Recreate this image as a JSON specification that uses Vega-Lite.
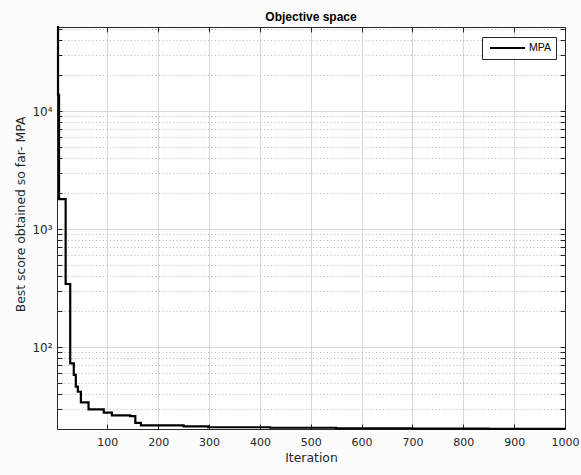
{
  "$schema": "https://vega.github.io/schema/vega-lite/v6.json",
  "width": 508,
  "height": 402,
  "autosize": {"type": "none"},
  "padding": {"left": 57, "top": 27, "right": 16, "bottom": 46},
  "background": "#fcfcfc",
  "title": {"text": "Objective space", "font": "Liberation Sans", "fontSize": 12, "fontWeight": "bold", "color": "#000000", "offset": -1, "anchor": "middle"},
  "config": {"view": {"fill": "#ffffff", "stroke": null}},
  "data": {"values": [
    {"iteration": 1, "score": 51500},
    {"iteration": 3, "score": 13700},
    {"iteration": 5, "score": 1790},
    {"iteration": 18, "score": 342},
    {"iteration": 27, "score": 72.8},
    {"iteration": 34, "score": 58},
    {"iteration": 38, "score": 46.1},
    {"iteration": 42, "score": 41.8},
    {"iteration": 48, "score": 34},
    {"iteration": 63, "score": 29.6},
    {"iteration": 93, "score": 27.8},
    {"iteration": 109, "score": 26.4},
    {"iteration": 145, "score": 26.0},
    {"iteration": 155, "score": 22.8},
    {"iteration": 166, "score": 21.7},
    {"iteration": 250, "score": 21.3},
    {"iteration": 298, "score": 20.9},
    {"iteration": 420, "score": 20.7},
    {"iteration": 550, "score": 20.5},
    {"iteration": 700, "score": 20.35},
    {"iteration": 850, "score": 20.25},
    {"iteration": 1000, "score": 20.2}
  ]},
  "layer": [
    {
      "mark": {"type": "line", "interpolate": "step-after", "strokeWidth": 2.2, "clip": false},
      "encoding": {
        "x": {"field": "iteration", "type": "quantitative",
          "scale": {"domain": [1, 1000], "nice": false, "zero": false},
          "axis": {"orient": "bottom", "values": [100, 200, 300, 400, 500, 600, 700, 800, 900, 1000], "format": "d",
            "title": "Iteration", "grid": true, "gridColor": "#d9d9d9", "gridWidth": 1,
            "tickSize": -5, "tickColor": "#262626", "domainColor": "#262626",
            "labelFont": "DejaVu Sans", "labelFontSize": 11, "labelColor": "#262626", "labelPadding": 12,
            "labelFlush": false, "labelOverlap": false,
            "titleFont": "DejaVu Sans", "titleFontSize": 12.4, "titleFontWeight": "normal", "titleColor": "#262626", "titlePadding": 4}},
        "y": {"field": "score", "type": "quantitative",
          "scale": {"type": "log", "domain": [20.2, 51500], "nice": false},
          "axis": {"orient": "left",
            "values": [30, 40, 50, 60, 70, 80, 90, 100, 200, 300, 400, 500, 600, 700, 800, 900, 1000, 2000, 3000, 4000, 5000, 6000, 7000, 8000, 9000, 10000, 20000, 30000, 40000, 50000],
            "labelExpr": "datum.value == 100 ? '10²' : datum.value == 1000 ? '10³' : datum.value == 10000 ? '10⁴' : ''",
            "grid": true,
            "gridColor": {"condition": {"test": "datum.value == 100 || datum.value == 1000 || datum.value == 10000", "value": "#d9d9d9"}, "value": "#b3b3b3"},
            "gridDash": {"condition": {"test": "datum.value == 100 || datum.value == 1000 || datum.value == 10000", "value": []}, "value": [1, 2.5]},
            "tickSize": -5, "tickColor": "#262626", "domainColor": "#262626",
            "labelFont": "DejaVu Sans", "labelFontSize": 12, "labelColor": "#262626", "labelPadding": 10,
            "labelOverlap": false, "labelFlush": false,
            "title": "Best score obtained so far- MPA",
            "titleFont": "DejaVu Sans", "titleFontSize": 12.4, "titleFontWeight": "normal", "titleColor": "#262626",
            "titleX": -30, "titleY": 187}},
        "color": {"datum": "MPA", "type": "nominal", "scale": {"range": ["#000000"]},
          "legend": {"orient": "none", "legendX": 425, "legendY": 10, "title": null,
            "symbolType": "M-0.6,0H6.4", "symbolSize": 100, "symbolStrokeWidth": 2, "symbolStrokeColor": "#000000", "symbolFillColor": "transparent",
            "strokeColor": "#262626", "fillColor": "#ffffff", "padding": 5,
            "labelFont": "Liberation Sans", "labelFontSize": 10.5, "labelColor": "#000000", "labelOffset": 30}}
      }
    },
    {
      "mark": {"type": "line", "opacity": 0},
      "encoding": {
        "x": {"field": "iteration", "type": "quantitative",
          "axis": {"orient": "top", "values": [100, 200, 300, 400, 500, 600, 700, 800, 900, 1000],
            "labels": false, "title": null, "grid": false, "tickSize": -5, "tickColor": "#262626", "domainColor": "#262626"}},
        "y": {"field": "score", "type": "quantitative",
          "axis": {"orient": "right",
            "values": [30, 40, 50, 60, 70, 80, 90, 100, 200, 300, 400, 500, 600, 700, 800, 900, 1000, 2000, 3000, 4000, 5000, 6000, 7000, 8000, 9000, 10000, 20000, 30000, 40000, 50000],
            "labels": false, "title": null, "grid": false, "tickSize": -5, "tickColor": "#262626", "domainColor": "#262626"}}
      }
    }
  ],
  "resolve": {"axis": {"x": "independent", "y": "independent"}}
}
